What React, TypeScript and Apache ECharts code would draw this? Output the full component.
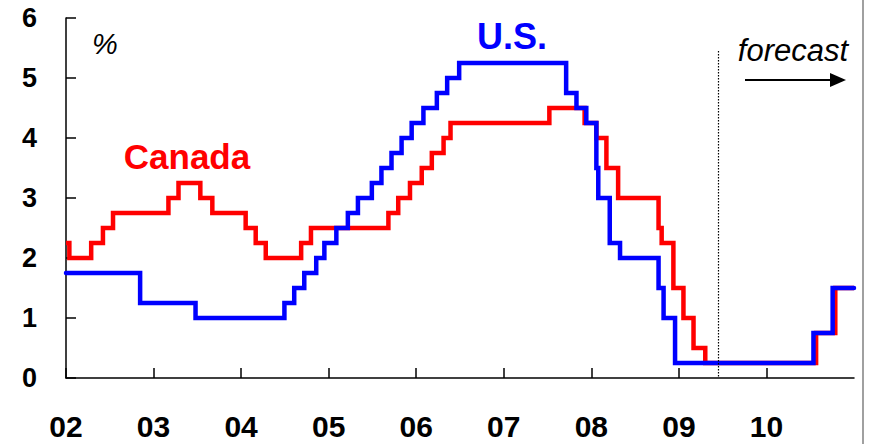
import React, { useEffect, useRef } from "react";
import * as echarts from "echarts";

// Bank of Canada overnight rate (change dates and new levels), incl. forecast
const canadaDates = [
  "2002-01-01", "2002-01-15", "2002-04-16", "2002-06-04", "2002-07-16",
  "2003-03-04", "2003-04-15", "2003-07-15", "2003-09-03", "2004-01-20",
  "2004-03-02", "2004-04-13", "2004-09-08", "2004-10-19", "2005-09-07",
  "2005-10-18", "2005-12-06", "2006-01-24", "2006-03-07", "2006-04-25",
  "2006-05-24", "2007-07-10", "2007-12-04", "2008-01-22", "2008-03-04",
  "2008-04-22", "2008-10-08", "2008-10-21", "2008-12-09", "2009-01-20",
  "2009-03-03", "2009-04-21", "2010-07-27", "2010-10-15", "2011-01-01",
];
const canadaRates = [
  2.25, 2.0, 2.25, 2.5, 2.75,
  3.0, 3.25, 3.0, 2.75, 2.5,
  2.25, 2.0, 2.25, 2.5, 2.75,
  3.0, 3.25, 3.5, 3.75, 4.0,
  4.25, 4.5, 4.25, 4.0, 3.5,
  3.0, 2.5, 2.25, 1.5, 1.0,
  0.5, 0.25, 0.75, 1.5, 1.5,
];

// U.S. federal funds target (change dates and new levels), incl. forecast
const usDates = [
  "2002-01-01", "2002-11-06", "2003-06-25", "2004-06-30", "2004-08-10",
  "2004-09-21", "2004-11-10", "2004-12-14", "2005-02-02", "2005-03-22",
  "2005-05-03", "2005-06-30", "2005-08-09", "2005-09-20", "2005-11-01",
  "2005-12-13", "2006-01-31", "2006-03-28", "2006-05-10", "2006-06-29",
  "2007-09-18", "2007-10-31", "2007-12-11", "2008-01-22", "2008-01-30",
  "2008-03-18", "2008-04-30", "2008-10-08", "2008-10-29", "2008-12-16",
  "2010-07-16", "2010-10-04", "2011-01-01",
];
const usRates = [
  1.75, 1.25, 1.0, 1.25, 1.5,
  1.75, 2.0, 2.25, 2.5, 2.75,
  3.0, 3.25, 3.5, 3.75, 4.0,
  4.25, 4.5, 4.75, 5.0, 5.25,
  4.75, 4.5, 4.25, 3.5, 3.0,
  2.25, 2.0, 1.5, 1.0, 0.25,
  0.75, 1.5, 1.5,
];

const xTickYears = [2002, 2003, 2004, 2005, 2006, 2007, 2008, 2009, 2010];
const xTickLabels = ["02", "03", "04", "05", "06", "07", "08", "09", "10"];
const forecastStartDate = "2009-06-15";
const forecastLineTop = 5.45;

const FONT = "'Liberation Sans', Arial, Helvetica, sans-serif";

function toYear(d: string): number {
  const [y, m, dd] = d.split("-").map(Number);
  const start = Date.UTC(y, 0, 1);
  const end = Date.UTC(y + 1, 0, 1);
  return y + (Date.UTC(y, m - 1, dd) - start) / (end - start);
}

export default function App() {
  const ref = useRef<HTMLDivElement>(null);

  useEffect(() => {
    if (!ref.current) return;
    const chart = echarts.init(ref.current, undefined, { renderer: "svg" });
    const canada = canadaDates.map((d, i) => [toYear(d), canadaRates[i]]);
    const us = usDates.map((d, i) => [toYear(d), usRates[i]]);
    const fx = toYear(forecastStartDate);

    chart.setOption({
      animation: false,
      backgroundColor: "#ffffff",
      grid: { left: 66, right: 17, top: 18, bottom: 66, containLabel: false },
      xAxis: {
        type: "value",
        min: 2002,
        max: 2011,
        interval: 1,
        splitLine: { show: false },
        axisLine: { show: true, lineStyle: { color: "#000", width: 1.5 } },
        axisTick: {
          show: true,
          inside: true,
          length: 10,
          customValues: xTickYears,
          lineStyle: { color: "#000", width: 1.5 },
        },
        axisLabel: {
          customValues: xTickYears,
          margin: 33,
          fontFamily: FONT,
          fontWeight: "bold",
          fontSize: 30,
          color: "#000",
          formatter: (v: number) => {
            const i = xTickYears.indexOf(Math.round(v));
            return i >= 0 && Math.abs(v - Math.round(v)) < 1e-6 ? xTickLabels[i] : "";
          },
        },
      },
      yAxis: {
        type: "value",
        min: 0,
        max: 6,
        interval: 1,
        splitLine: { show: false },
        axisLine: { show: true, lineStyle: { color: "#000", width: 1.5 } },
        axisTick: { show: true, inside: true, length: 10, lineStyle: { color: "#000", width: 1.5 } },
        axisLabel: {
          margin: 29,
          fontFamily: FONT,
          fontWeight: "bold",
          fontSize: 27,
          color: "#000",
        },
      },
      series: [
        {
          name: "Canada",
          type: "line",
          step: "end",
          data: canada,
          symbol: "none",
          clip: false,
          lineStyle: { color: "#ff0000", width: 4.5, join: "miter", cap: "butt" },
        },
        {
          name: "U.S.",
          type: "line",
          step: "end",
          data: us,
          symbol: "none",
          clip: false,
          lineStyle: { color: "#0000ff", width: 4.5, join: "miter", cap: "round" },
          markLine: {
            silent: true,
            symbol: ["none", "none"],
            label: { show: false },
            lineStyle: { color: "#000", width: 1.2, type: [1.5, 1.5] },
            data: [[{ coord: [fx, forecastLineTop] }, { coord: [fx, 0] }]],
          },
        },
      ],
      graphic: [
        {
          type: "text",
          x: 92,
          y: 44,
          style: {
            text: "%",
            fontFamily: FONT,
            fontStyle: "italic",
            fontSize: 29,
            fill: "#000",
            verticalAlign: "middle",
          },
        },
        {
          type: "text",
          x: 187,
          y: 156,
          style: {
            text: "Canada",
            fontFamily: FONT,
            fontWeight: "bold",
            fontSize: 35,
            fill: "#ff0000",
            align: "center",
            verticalAlign: "middle",
          },
        },
        {
          type: "text",
          x: 512,
          y: 36,
          style: {
            text: "U.S.",
            fontFamily: FONT,
            fontWeight: "bold",
            fontSize: 36,
            fill: "#0000ff",
            align: "center",
            verticalAlign: "middle",
          },
        },
        {
          type: "text",
          x: 793,
          y: 50,
          style: {
            text: "forecast",
            fontFamily: FONT,
            fontStyle: "italic",
            fontSize: 31,
            fill: "#000",
            align: "center",
            verticalAlign: "middle",
          },
        },
        {
          type: "line",
          shape: { x1: 745, y1: 80, x2: 832, y2: 80 },
          style: { stroke: "#000", lineWidth: 2 },
        },
        {
          type: "polygon",
          shape: { points: [[830, 73], [846, 80], [830, 87]] },
          style: { fill: "#000" },
        },
        {
          type: "line",
          shape: { x1: 863, y1: 0, x2: 863, y2: 444 },
          style: { stroke: "#a0a0a0", lineWidth: 2 },
        },
      ],
    });

    return () => chart.dispose();
  }, []);

  return (
    <div
      ref={ref}
      style={{ position: "fixed", left: 0, top: 0, width: 871, height: 444, background: "#fff" }}
    />
  );
}
